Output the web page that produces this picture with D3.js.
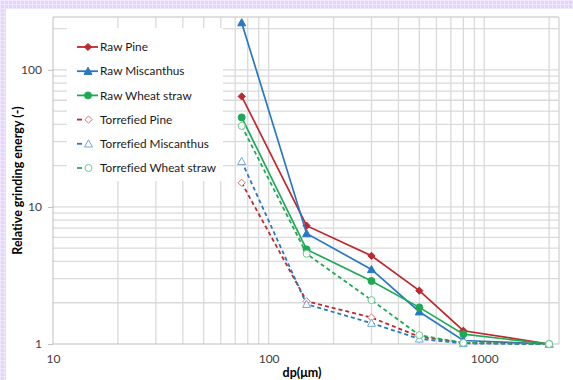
<!DOCTYPE html>
<html><head><meta charset="utf-8">
<script src="https://cdn.jsdelivr.net/npm/d3@7"></script>
<style>body{margin:0;background:#fff}svg{display:block}text{font-variant-ligatures:none}</style>
</head><body><svg id="c" width="573" height="380"></svg>
<script>
const particleSizes = [75, 150, 300, 500, 800, 2000];
const rawPine = [64, 7.3, 4.4, 2.45, 1.25, 1];
const rawMiscanthus = [221, 6.4, 3.5, 1.72, 1.06, 1];
const rawWheat = [45, 4.9, 2.88, 1.85, 1.18, 1];
const torrPine = [15, 2.05, 1.56, 1.13, 1.02, 1];
const torrMiscanthus = [21.5, 1.95, 1.42, 1.09, 1.01, 1];
const torrWheat = [39, 4.55, 2.09, 1.16, 1.02, 1];
const seriesNames = ["Raw Pine","Raw Miscanthus","Raw Wheat straw","Torrefied Pine","Torrefied Miscanthus","Torrefied Wheat straw"];
const yTickLabels = ["1","10","100"];
const xTickLabels = ["10","100","1000"];

const series = [
  {name: seriesNames[0], values: rawPine, color: "#c0272d", shape: "diamond", dashed: false},
  {name: seriesNames[1], values: rawMiscanthus, color: "#2a78c2", shape: "triangle", dashed: false},
  {name: seriesNames[2], values: rawWheat, color: "#1eaa55", shape: "circle", dashed: false},
  {name: seriesNames[3], values: torrPine, color: "#c0272d", shape: "diamond", dashed: true},
  {name: seriesNames[4], values: torrMiscanthus, color: "#2a78c2", shape: "triangle", dashed: true},
  {name: seriesNames[5], values: torrWheat, color: "#1eaa55", shape: "circle", dashed: true}
];

const svg = d3.select("#c");
const W = 573, H = 380;
const L = 53, R = 559, T = 17, B = 344;
const FONT = "Lato, 'Open Sans', sans-serif";

// background pattern band
const defs = svg.append("defs");
const pat = defs.append("pattern").attr("id","chk").attr("width",4).attr("height",4).attr("patternUnits","userSpaceOnUse");
pat.append("rect").attr("width",4).attr("height",4).attr("fill","#e4d4fa");
pat.append("rect").attr("x",0).attr("y",0).attr("width",4).attr("height",1).attr("fill","#f0e6fd");
pat.append("rect").attr("x",0).attr("y",0).attr("width",1).attr("height",4).attr("fill","#f0e6fd");
svg.append("rect").attr("x",0).attr("y",0).attr("width",W).attr("height",9).attr("fill","url(#chk)");
svg.append("rect").attr("x",0).attr("y",0).attr("width",6).attr("height",H).attr("fill","url(#chk)");

const x = d3.scaleLog().domain([10, 2222]).range([L, R]);
const y = d3.scaleLog().domain([1, 243]).range([B, T]);

const grid = svg.append("g");
const xGrid = [];
[10,100,1000].forEach(d => { for (let k=1;k<10;k++){ const v=d*k; if (v>10 && v<=2000) xGrid.push(v);} });
const yGrid = [];
[1,10,100].forEach(d => { for (let k=1;k<10;k++){ const v=d*k; if (v>1 && v<=200) yGrid.push(v);} });
grid.selectAll(".gx").data(xGrid).enter().append("line")
  .attr("x1", d=>x(d)).attr("x2", d=>x(d)).attr("y1", T).attr("y2", B)
  .attr("stroke","#dadada").attr("stroke-width",1.3);
grid.selectAll(".gy").data(yGrid).enter().append("line")
  .attr("y1", d=>y(d)).attr("y2", d=>y(d)).attr("x1", L).attr("x2", R)
  .attr("stroke","#dadada").attr("stroke-width",1.3);
svg.append("line").attr("x1",L).attr("x2",R).attr("y1",T).attr("y2",T).attr("stroke","#d4d4d4").attr("stroke-width",1.3);
svg.append("line").attr("x1",R).attr("x2",R).attr("y1",T).attr("y2",B).attr("stroke","#d4d4d4").attr("stroke-width",1.3);

// axes
const yAxis = d3.axisLeft(y).tickValues([1,10,100]).tickFormat((d,i)=>yTickLabels[i]).tickSize(5).tickPadding(6);
const gy = svg.append("g").attr("transform",`translate(${L},0)`).call(yAxis);
gy.select(".domain").attr("stroke","#bfbfbf").attr("d",`M0,${T}V${B}`);
gy.selectAll(".tick line").attr("stroke","#bfbfbf");
gy.selectAll("text").attr("font-family",FONT).attr("font-size",12).attr("fill","#404040");

const xAxis = d3.axisBottom(x).tickValues([10,100,1000]).tickFormat((d,i)=>xTickLabels[i]).tickSize(0).tickPadding(10);
const gx = svg.append("g").attr("transform",`translate(0,${B})`).call(xAxis);
gx.select(".domain").attr("stroke","#bfbfbf").attr("d",`M${L},0H${R}`);
gx.selectAll("text").attr("font-family",FONT).attr("font-size",12).attr("fill","#404040");

// titles
svg.append("text").attr("transform",`translate(22,${(T+B)/2}) rotate(-90)`).attr("text-anchor","middle")
  .attr("font-family",FONT).attr("font-weight","bold").attr("font-size",12.5).attr("fill","#000")
  .text("Relative grinding energy (-)");
svg.append("text").attr("x",302).attr("y",377).attr("text-anchor","middle")
  .attr("font-family",FONT).attr("font-weight","bold").attr("font-size",12.5).attr("fill","#000")
  .text("dp(μm)");

function marker(g, s, cx, cy) {
  const common = sel => sel.attr("fill", s.dashed ? "#ffffff" : s.color)
    .attr("stroke", s.dashed ? d3.interpolateRgb(s.color,"#ffffff")(0.35) : s.color).attr("stroke-width",1);
  if (s.shape === "diamond") {
    const r = 3.6;
    g.append("path").attr("d",`M${cx},${cy-r}L${cx+r},${cy}L${cx},${cy+r}L${cx-r},${cy}Z`).call(common);
  } else if (s.shape === "triangle") {
    const r = 4;
    g.append("path").attr("d",`M${cx},${cy-r}L${cx+r},${cy+r*0.8}L${cx-r},${cy+r*0.8}Z`).call(common);
  } else {
    g.append("circle").attr("cx",cx).attr("cy",cy).attr("r",3.5).call(common);
  }
}

const line = d3.line().x((d,i)=>x(particleSizes[i])).y(d=>y(d));
const plot = svg.append("g");
series.forEach(s => {
  plot.append("path").datum(s.values).attr("d", line).attr("fill","none")
    .attr("stroke", s.color).attr("stroke-width", s.dashed ? 1.8 : 1.7)
    .attr("stroke-dasharray", s.dashed ? "4,3" : null);
  const mg = plot.append("g");
  s.values.forEach((v,i) => marker(mg, s, x(particleSizes[i]), y(v)));
});

// legend
const lg = svg.append("g");
lg.append("rect").attr("x",67).attr("y",28).attr("width",156).attr("height",153).attr("fill","#fff");
const ly = d3.scalePoint().domain(seriesNames).range([47, 168]);
series.forEach(s => {
  const yy = ly(s.name);
  if (s.dashed) {
    lg.append("line").attr("x1",77).attr("x2",82).attr("y1",yy).attr("y2",yy).attr("stroke",s.color).attr("stroke-width",1.8);
  } else {
    lg.append("line").attr("x1",77).attr("x2",98).attr("y1",yy).attr("y2",yy).attr("stroke",s.color).attr("stroke-width",1.8);
  }
  marker(lg, s, s.dashed ? 88.5 : 88, yy);
  lg.append("text").attr("x",100).attr("y",yy).attr("dy","0.35em")
    .attr("font-family",FONT).attr("font-size",11.8).attr("fill","#1a1a1a").text(s.name);
});
</script></body></html>
